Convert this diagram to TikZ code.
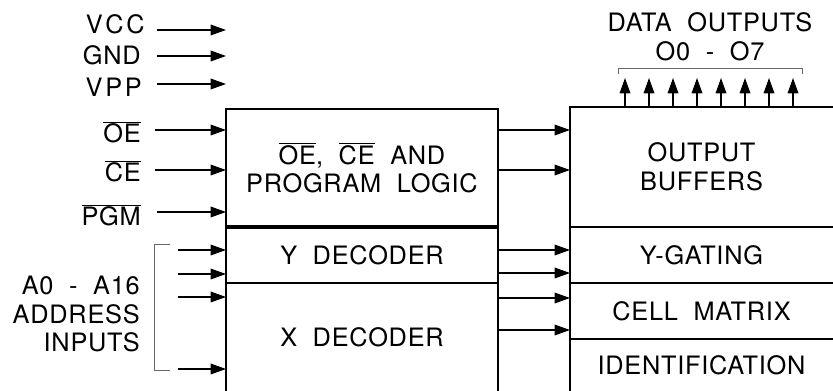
\documentclass[tikz,border=0pt]{standalone}
\usepackage{fontspec}
\setmainfont{TeX Gyre Heros}[LetterSpace=3]
\usetikzlibrary{arrows.meta}
\newdimen\unitpx
\unitpx=0.75pt
\newcommand\ovl[1]{$\overline{\mbox{#1}}$}
\begin{document}
\begin{tikzpicture}[x=0.75pt,y=-0.75pt,
  lbl/.style={font=\fontsize{19}{21.5}\selectfont, inner sep=0pt},
  box/.style={lbl, rectangle, outer sep=0pt, align=center},
  edge/.style={line width=1.9pt},
  arr/.style={line width=0.9pt, -{Triangle[length=11.5pt,width=8pt]}},
  brk/.style={line width=0.6pt, black!60}]
\useasboundingbox (0,0) rectangle (833,391);
\node[box, minimum width=272\unitpx, minimum height=118\unitpx] (lg) at (362,168) {\ovl{OE},~~\ovl{CE}~~AND\\PROGRAM~~LOGIC};
\node[box, minimum width=272\unitpx, minimum height=56\unitpx] (yd) at (362,255) {Y~~DECODER};
\node[box, minimum width=272\unitpx, minimum height=108\unitpx] (xd) at (362,337) {X~~DECODER};
\node[box, minimum width=263\unitpx, minimum height=120\unitpx] (ob) at (701.5,167) {OUTPUT\\BUFFERS};
\node[box, minimum width=263\unitpx, minimum height=56\unitpx] (yg) at (701.5,255) {Y-GATING};
\node[box, minimum width=263\unitpx, minimum height=56\unitpx] (cm) at (701.5,311) {CELL~~MATRIX};
\node[box, minimum width=263\unitpx, minimum height=52\unitpx] (id) at (701.5,365) {IDENTIFICATION};
\draw[edge] (xd.south west) -- (lg.north west) -- (lg.north east) -- (xd.south east);
\draw[edge, line width=2.6pt] (yd.north west) -- (yd.north east);
\draw[edge] (xd.north west) -- (xd.north east);
\draw[edge] (id.south west) -- (ob.north west) -- (ob.north east);
\draw[edge] (yg.north west) -- (yg.north east);
\draw[edge] (cm.north west) -- (cm.north east);
\draw[edge] (id.north west) -- (id.north east);
\node[lbl, anchor=base east] (vcc) at (145,34) {V\kern2pt C\kern2pt C};
\node[lbl, anchor=base east] (gnd) at (141,65) {GND};
\node[lbl, anchor=base east] (vpp) at (142,97) {V\kern2pt P\kern2pt P};
\node[lbl, anchor=base east] (oe) at (141,143) {\ovl{OE}};
\node[lbl, anchor=base east] (ce) at (141,182) {\ovl{CE}};
\node[lbl, anchor=base east] (pgm) at (141,226) {\ovl{PGM}};
\node[lbl, anchor=east, align=right] (addr) at (140,314) {A0~~-~~A16\\ADDRESS\\INPUTS};
\node[lbl, align=center] (dout) at (710,37) {DATA~~OUTPUTS\\O0~~-~~O7};
\coordinate (vccin) at (157,30);
\coordinate (gndin) at (157,56);
\coordinate (vppin) at (157,84);
\coordinate (oein) at (155,130);
\coordinate (cein) at (155,170);
\coordinate (pgmin) at (157,212);
\draw[arr] (vccin) -- (vccin -| lg.west);
\draw[arr] (gndin) -- (gndin -| lg.west);
\draw[arr] (vppin) -- (vppin -| lg.west);
\draw[arr] (oein) -- (oein -| lg.west);
\draw[arr] (cein) -- (cein -| lg.west);
\draw[arr] (pgmin) -- (pgmin -| lg.west);
\foreach \y in {250,274,297,369}{
  \coordinate (a\y) at (178,\y);
  \draw[arr] (a\y) -- (a\y -| lg.west);
}
\draw[brk] (170,244) -- (154,244) -- (154,370) -- (170,370);
\foreach \y in {130,170,250,273,298,330}{
  \coordinate (m\y) at (498,\y);
  \draw[arr] (m\y) -- (m\y -| ob.west);
}
\coordinate (dtop) at (700,78);
\foreach \i in {0,...,7}{
  \coordinate (o\i) at (625+24*\i,107);
  \draw[arr] (o\i) -- (o\i |- dtop);
}
\draw[brk] (618,74) -- (618,68) -- (802,68) -- (802,74);
\end{tikzpicture}
\end{document}
